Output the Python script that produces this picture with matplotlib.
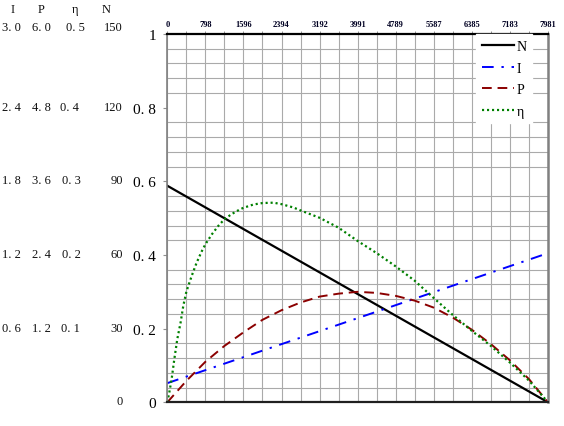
import matplotlib
matplotlib.use("Agg")
import matplotlib.pyplot as plt
from matplotlib.ticker import MultipleLocator, FixedLocator

# ---- data (normalised 0..1 on both axes) ----
top_tick_labels = ["0", "798", "1596", "2394", "3192", "3991", "4789", "5587", "6385", "7183", "7981"]
ytick_vals = [0, 0.2, 0.4, 0.6, 0.8, 1.0]
ytick_labels = ["0", "0. 2", "0. 4", "0. 6", "0. 8", "1"]

n_x = [0.0, 1.0]
n_y = [0.588, 0.0]

i_x = [0.0, 1.0]
i_y = [0.052, 0.405]

p_x = [0.0, 0.05, 0.1, 0.15, 0.2, 0.25, 0.3, 0.35, 0.4, 0.45, 0.5, 0.55, 0.6, 0.65,
       0.7, 0.75, 0.8, 0.85, 0.9, 0.95, 1.0]
p_y = [0.0, 0.058, 0.110, 0.153, 0.190, 0.224, 0.250, 0.271, 0.287, 0.295, 0.300,
       0.297, 0.289, 0.276, 0.257, 0.230, 0.197, 0.158, 0.114, 0.063, 0.0]

e_x = [0.0, 0.0053, 0.0114, 0.0184, 0.0263, 0.035, 0.042, 0.05, 0.064, 0.077, 0.090,
       0.1, 0.117, 0.134, 0.15, 0.169, 0.191, 0.2, 0.226, 0.25, 0.279, 0.3, 0.331,
       0.35, 0.4, 0.45, 0.5, 0.55, 0.6, 0.65, 0.7, 0.75, 0.8, 0.85, 0.9, 0.95, 1.0]
e_y = [0.0, 0.027, 0.063, 0.117, 0.172, 0.217, 0.262, 0.300, 0.343, 0.379, 0.409,
       0.429, 0.456, 0.479, 0.497, 0.511, 0.524, 0.528, 0.537, 0.541, 0.542, 0.538, 0.529,
       0.521, 0.501, 0.474, 0.438, 0.405, 0.369, 0.330, 0.283, 0.237, 0.194, 0.153, 0.108, 0.059, 0.0]

side_headers = ["I", "P", "η", "N"]
col_I = ["3. 0", "2. 4", "1. 8", "1. 2", "0. 6"]
col_P = ["6. 0", "4. 8", "3. 6", "2. 4", "1. 2"]
col_E = ["0. 5", "0. 4", "0. 3", "0. 2", "0. 1"]
col_N = ["150", "120", "90", "60", "30", "0"]

W, H = 564, 427
fig = plt.figure(figsize=(W / 100, H / 100), dpi=100)
serif = ["Liberation Serif", "DejaVu Serif"]

ax = fig.add_axes([167.3 / W, 1 - 403.3 / H, (548 - 167.3) / W, (403.3 - 35) / H])
ax.set_xlim(0, 1)
ax.set_ylim(0, 1)

# grid
ax.xaxis.set_minor_locator(MultipleLocator(0.05))
ax.yaxis.set_minor_locator(MultipleLocator(0.04))
ax.grid(which="minor", color="#aaaaaa", lw=0.8)
ax.grid(which="major", axis="x", color="#aaaaaa", lw=0.8)
ax.set_axisbelow(True)

# curves
ax.plot(n_x, n_y, color="black", lw=1.6, label="N")
ax.plot(i_x, i_y, color="#0000ff", lw=1.4, linestyle=(0, (6, 4, 1.2, 4)), label="I")
ax.plot(p_x, p_y, color="#8b0000", lw=1.4, linestyle=(0, (5, 3)), label="P")
ax.plot(e_x, e_y, color="#008000", lw=1.6, linestyle=(0, (0.95, 1.3)), label="η")

# top axis
ax.xaxis.tick_top()
ax.xaxis.set_major_locator(FixedLocator([k / 10 for k in range(11)]))
ax.set_xticklabels(top_tick_labels, fontsize=6, fontweight="bold", family=serif, color="#000022")
ax.tick_params(axis="x", which="both", length=2.5, width=0.7, color="#909090", pad=2)

# left axis
ax.set_yticks(ytick_vals)
ax.set_yticklabels(ytick_labels, fontsize=11, family=serif)
ax.tick_params(axis="y", which="major", length=3, width=0.8, color="#909090", pad=5)

ax.tick_params(axis="y", which="minor", length=0)

for side, c, w in [("top", "black", 1.6), ("bottom", "#202020", 1.6),
                   ("left", "#808080", 1.2), ("right", "#808080", 1.8)]:
    ax.spines[side].set_color(c)
    ax.spines[side].set_linewidth(w)

leg = ax.legend(loc="upper right", frameon=True, fancybox=False, edgecolor="white",
                facecolor="white", framealpha=1, prop={"family": serif, "size": 10},
                handlelength=2.3, handletextpad=0.2, labelspacing=0.62,
                borderaxespad=0.3, bbox_to_anchor=(0.97, 1.01))

# side scales
def ftext(x, y, s, ha="left", size=9):
    fig.text(x / W, 1 - y / H, s, ha=ha, va="center", fontsize=size, family=serif, color="#101010")

for hx, h in zip([13, 41, 75, 106], side_headers):
    ftext(hx, 10, h, ha="center")

rows_y = [28, 108, 181, 255, 329]
eta_x = [66, 60, 62, 62, 61]
for k, ry in enumerate(rows_y):
    ftext(2, ry, col_I[k])
    ftext(32, ry, col_P[k])
    ftext(eta_x[k], ry, col_E[k])
    ftext(123, ry, col_N[k], ha="right")
ftext(123, 402, col_N[5], ha="right")

fig.savefig("out.png", dpi=100)
